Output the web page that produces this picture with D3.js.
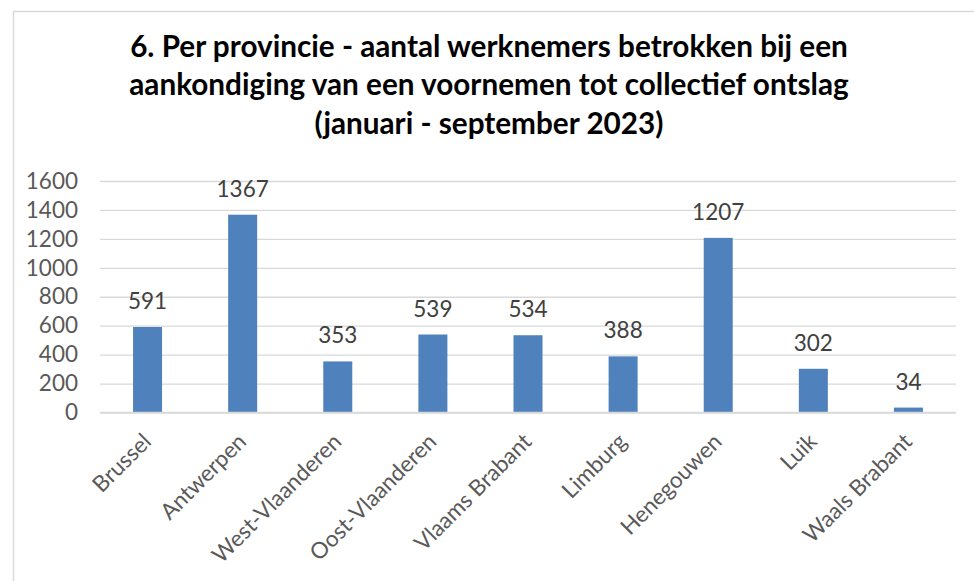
<!DOCTYPE html>
<html lang="nl">
<head>
<meta charset="utf-8">
<title>Per provincie - collectief ontslag</title>
<script src="https://d3js.org/d3.v7.min.js"></script>
<style>
  body { margin: 0; background: #fff; }
  svg text { font-family: Lato, "Open Sans", sans-serif; }
</style>
</head>
<body>
<script>
// data
var provinces = ["Brussel", "Antwerpen", "West-Vlaanderen", "Oost-Vlaanderen", "Vlaams Brabant",
                 "Limburg", "Henegouwen", "Luik", "Waals Brabant"];
var workers = [591, 1367, 353, 539, 534, 388, 1207, 302, 34];
var yTicks = [0, 200, 400, 600, 800, 1000, 1200, 1400, 1600];
var titleLines = ["6. Per provincie - aantal werknemers betrokken bij een",
                  "aankondiging van een voornemen tot collectief ontslag",
                  "(januari - september 2023)"];

var W = 974, H = 581;
var plot = { left: 100, right: 956, top: 181, bottom: 412.5 };
var fs = 22.5; // label font size

var svg = d3.select("body").append("svg").attr("width", W).attr("height", H);

// chart area border (runs off the right and bottom of the picture)
svg.append("rect")
    .attr("x", 13.5).attr("y", 11.5)
    .attr("width", 1000).attr("height", 700)
    .attr("fill", "#fff").attr("stroke", "#d9d9d9").attr("stroke-width", 1.5);

// title, sized so the first line spans like the original
var baselines = [56.7, 95.2, 133.7];
var tl = svg.append("g").selectAll("text").data(titleLines).enter().append("text")
    .attr("x", 489)
    .attr("y", function(d, i) { return baselines[i]; })
    .attr("text-anchor", "middle")
    .attr("font-weight", "bold")
    .attr("font-size", 26)
    .attr("fill", "#000")
    .text(function(d) { return d; });
var w0 = tl.node().getComputedTextLength();
tl.attr("font-size", 26 * 718 / w0);

var x = d3.scaleBand().domain(provinces).range([plot.left, plot.right]);
var y = d3.scaleLinear().domain([0, 1600]).range([plot.bottom, plot.top]);
var barW = x.bandwidth() * 0.305;

// y axis with gridlines
var yAxis = svg.append("g")
    .attr("transform", "translate(" + plot.left + ",0)")
    .call(d3.axisLeft(y).tickValues(yTicks).tickFormat(d3.format("d"))
        .tickSize(-(plot.right - plot.left)).tickPadding(22));
yAxis.select(".domain").remove();
yAxis.selectAll("line").attr("stroke", "#d9d9d9").attr("stroke-width", 1.3);
yAxis.selectAll("text")
    .attr("font-size", fs)
    .attr("fill", "#595959")
    .attr("font-family", "Lato, sans-serif");

// bars
svg.selectAll(".bar").data(workers).enter().append("rect")
    .attr("class", "bar")
    .attr("x", function(d, i) { return x(provinces[i]) + x.bandwidth() / 2 - barW / 2; })
    .attr("y", function(d) { return y(d); })
    .attr("width", barW)
    .attr("height", function(d) { return y(0) - y(d); })
    .attr("fill", "#4f81bd");

// value labels
svg.selectAll(".val").data(workers).enter().append("text")
    .attr("class", "val")
    .attr("x", function(d, i) { return x(provinces[i]) + x.bandwidth() / 2; })
    .attr("y", function(d) { return y(d) - 18; })
    .attr("text-anchor", "middle")
    .attr("font-size", fs)
    .attr("fill", "#404040")
    .text(function(d) { return d; });

// x axis line and rotated category labels
svg.append("line")
    .attr("x1", plot.left).attr("x2", plot.right)
    .attr("y1", y(0)).attr("y2", y(0))
    .attr("stroke", "#d9d9d9").attr("stroke-width", 1.3);

svg.selectAll(".cat").data(provinces).enter().append("text")
    .attr("class", "cat")
    .attr("transform", function(d) {
        return "translate(" + (x(d) + x.bandwidth() / 2 + 5) + "," + 443 + ") rotate(-45)";
    })
    .attr("text-anchor", "end")
    .attr("font-size", fs)
    .attr("fill", "#595959")
    .text(function(d) { return d; });
</script>
</body>
</html>
